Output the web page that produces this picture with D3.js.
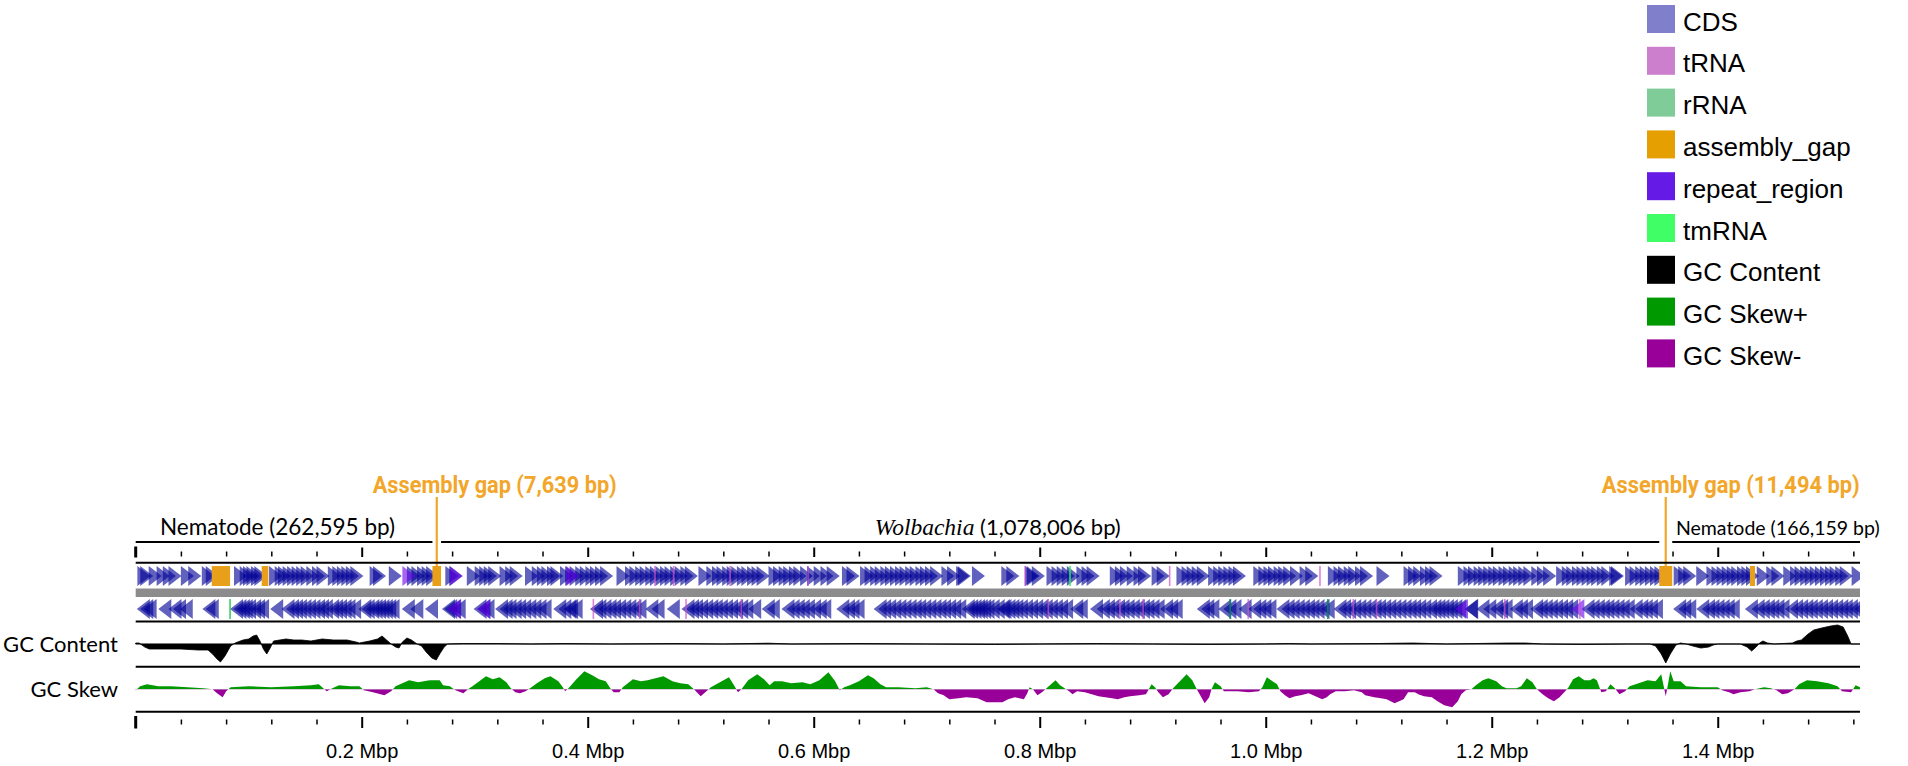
<!DOCTYPE html>
<html>
<head>
<meta charset="utf-8">
<script src="https://cdn.jsdelivr.net/npm/d3@7"></script>
<style>
body { margin: 0; background: #fff; }
svg { display: block; }
</style>
</head>
<body>
<svg id="map" width="1908" height="766"></svg>
<script>
// contigs in map order, with the assembly gaps between them
var seqNames = ["Nematode", "Wolbachia", "Nematode"];
var seqLengths = [262595, 1078006, 166159];
var gapLengths = [7639, 11494];
var seqLabelStartKb = [21.5, 654, 1363];

// other (unlabelled) assembly gaps, kb
var innerGaps = [[67.3, 83.5], [111.5, 117.4], [1428.5, 1433]];

// CDS positions (kb)
var cdsFwd = [1.5, 4, 11.5, 18.5, 24, 29, 40, 46.5, 58.5, 62,
  87, 92, 95, 98, 102, 105,
  118, 123, 126, 130, 134, 138, 142, 146, 151, 156, 160,
  170, 174, 178, 182, 186, 190,
  207, 210, 224, 240, 244, 249, 253, 257,
  274, 277.5, 293, 300, 304, 308, 312, 322, 327, 331, 344.5, 350.5, 355, 359, 364, 367,
  375.5, 380, 384, 389, 393, 398, 402, 406.5, 411,
  425.5, 433, 437, 442, 446, 451, 455, 460, 464, 468, 473, 477, 482, 486,
  498, 505, 510, 514, 519, 523, 527, 532, 536, 541, 545, 549.5,
  560, 564, 569, 573, 578, 582, 588, 594, 600, 606, 611.5,
  625, 629, 641, 645, 650, 654, 659, 663, 667.5, 672, 676, 681, 685, 690, 694, 698.5, 703,
  713, 718, 726, 727.5, 740,
  766, 770.5, 787, 788.5, 793, 806, 810.5, 815, 819.5, 824, 832.5, 837, 841.5,
  862, 866.5, 871, 877, 883, 887, 899, 903.5, 921, 925.5, 930, 934.5, 939,
  949, 953.5, 958, 962.5, 967, 971, 989, 993.5, 998, 1002, 1007, 1011, 1015.5, 1021.5, 1030, 1035,
  1055, 1060, 1064, 1069, 1073, 1079, 1083.5, 1098, 1122, 1126, 1130.5, 1136.5, 1141, 1145,
  1170, 1175, 1179, 1184, 1188, 1192.5, 1197, 1201, 1206, 1210, 1215, 1219, 1223.5, 1228, 1235, 1240, 1245.5,
  1257, 1262, 1266, 1271, 1275, 1279.5, 1284, 1288, 1293, 1297, 1304, 1305.5,
  1318, 1322, 1327, 1331, 1335.5, 1340, 1344,
  1361, 1365, 1369.5, 1381, 1390, 1394.5, 1399, 1403.5, 1408, 1412, 1417, 1421, 1425,
  1434.5, 1443, 1447.5, 1458, 1464, 1468, 1473, 1477, 1481.5, 1486, 1490.5, 1495, 1499, 1504, 1508, 1518.5];

var cdsRev = [1, 4, 7, 20, 29, 33, 39, 59, 62,
  83.5, 86.5, 89.5, 92, 95, 99.5, 103, 106.5, 119,
  129, 133, 136.5, 140, 144, 148, 152, 156, 159.5, 163, 168.5, 172, 175.5, 179.5, 183, 188,
  197, 200, 204, 207, 210, 213, 216, 219, 222, 235.5, 243, 256,
  271, 273, 276.5, 280.5, 299, 302.5, 306,
  318, 322, 325.5, 330, 334, 338.5, 343, 347.5, 352, 356.5, 369.5, 374, 378.5,
  380, 384, 402, 405, 409.5, 414, 418, 422.5, 427, 431.5, 436, 440.5, 451, 456.5, 470,
  483, 487, 490.5, 495, 499.5, 504, 508, 512.5, 517, 521.5, 526, 530.5, 535, 542,
  554, 558.5, 571.5, 576, 580.5, 585, 589.5, 595, 600, 604, 620, 625, 629, 633.5,
  653, 657, 661.5, 666, 670.5, 675, 679.5, 684, 688, 692.5, 697, 701.5, 706, 710, 714.5, 719, 723.5,
  731, 734, 737, 740, 742.5, 745.5, 748.5, 753, 757.5, 762,
  763.5, 767, 770.5, 774, 778, 782.5, 787, 791.5, 796, 800, 804.5, 809, 813.5, 818,
  827, 831, 844.5, 850.5, 855, 859, 864, 868, 872.5, 877, 881.5, 886, 890, 894.5, 899,
  906.5, 911, 915, 939, 943, 947.5, 958, 962.5, 967, 976, 984.5, 989, 993.5, 998,
  1009.5, 1014, 1018.5, 1023, 1027.5, 1032, 1036, 1040.5, 1045, 1049.5,
  1060, 1064, 1068.5, 1073, 1077.5, 1082, 1086.5, 1091, 1095, 1099.5, 1104, 1108.5, 1113, 1117.5, 1122, 1126, 1130.5, 1135,
  1140, 1144, 1147.5, 1151, 1155, 1158.5, 1162.5, 1166, 1176, 1176.5, 1186.5, 1192.5, 1198.5, 1203, 1207, 1216, 1220.5, 1225,
  1234, 1238, 1242.5, 1247, 1251.5, 1256, 1260.5, 1265, 1279.5, 1284, 1288.5, 1293, 1297, 1301.5, 1306, 1310.5, 1315,
  1322, 1327, 1331, 1335.5, 1340, 1360.5, 1365, 1369.5, 1381, 1386, 1390, 1394.5, 1399, 1403.5, 1408,
  1424, 1430, 1434.5, 1439, 1443, 1447.5, 1452, 1459.5, 1464, 1468.5, 1473, 1477, 1481.5, 1486, 1490.5, 1495, 1499.5, 1504, 1508, 1512.5, 1517, 1521];

var repeatFwd = [236, 278, 381];
var repeatRev = [276, 302, 1167.5, 1270.5];
var trnaFwd = [459.5, 476, 526, 595, 787, 915, 1048];
var trnaRev = [405, 446, 487, 536, 807.5, 871, 891.5, 984.5, 1077.5, 1098, 1211.5, 1278];
var rrnaRev = [968.5, 1055];
var tmrnaFwd = [826.8];
var tmrnaRev = [83.5];

// GC content, deviation from genome mean (kb, value)
var gcContent = [[0, 1], [3, 1], [8, -3], [12, -5], [25, -5], [40, -5], [55, -6], [64, -6], [68, -10], [72, -15], [75, -18],
  [79, -12], [84, -2], [88, 1], [95, 4], [100, 5], [104, 8], [107, 9], [110, 3], [113, -5], [116, -10], [119, -4],
  [122, 3], [133, 5], [140, 4], [147, 4], [155, 3], [165, 5], [175, 4], [187, 4], [195, 2], [198, 1], [207, 3],
  [214, 5], [218, 8], [222, 4], [226, 0], [230, -3], [233, -4], [236, 2], [240, 6], [244, 4], [249, 0], [253, -2],
  [257, -8], [262, -14], [266, -16], [269, -10], [273, -3], [276, 0], [290, 0.5], [320, 0.5], [350, 0], [380, 0.5],
  [420, 0], [480, 0.5], [520, 0], [560, 0.8], [580, 0], [640, 0.5], [700, 0], [760, -0.5], [800, 0], [850, 0.5],
  [900, 0], [950, -0.5], [1000, 0], [1020, 0.5], [1040, 0], [1100, 0.5], [1130, 1], [1160, 0], [1215, 1], [1230, 1],
  [1245, 0], [1280, -0.5], [1320, 0], [1340, 0], [1345, -2], [1350, -10], [1354, -19], [1358, -10], [1363, -1],
  [1367, 1], [1372, 0], [1378, -2], [1385, -4], [1392, -3], [1396, -1], [1400, 0], [1420, 0], [1426, -3], [1430, -7],
  [1434, -3], [1437, 1], [1440, 3], [1444, 1], [1450, 0], [1466, 1], [1470, 3], [1474, 4], [1480, 10], [1485, 14],
  [1492, 16], [1500, 18], [1506, 19], [1511, 17], [1515, 8], [1518, 0], [1525.9, 0]];

// GC skew (kb, value)
var gcSkew = [[0, -1], [4, 3], [10, 5], [20, 3], [31, 3], [46, 2], [60, 1], [68, 0], [72, -4], [77, -8], [80, -2], [84, 2],
  [100, 3], [120, 2], [140, 3], [155, 4], [162, 5], [166, 1], [169, -2], [174, 1], [180, 4], [190, 3], [198, 3],
  [202, -1], [210, -3], [220, -6], [226, -2], [230, 3], [236, 6], [242, 9], [250, 7], [260, 9], [269, 9], [272, 4],
  [278, 3], [283, -1], [290, -4], [294, 0], [298, 3], [310, 13], [316, 10], [322, 12], [328, 7], [332, 1], [336, -3],
  [340, -4], [345, -2], [349, 1], [355, 6], [362, 11], [367, 13], [374, 8], [378, 2], [380, -2], [383, 1], [390, 10],
  [397, 18], [404, 14], [410, 10], [416, 8], [420, 1], [423, -3], [428, -3], [431, 2], [440, 10], [447, 8],
  [453, 9], [460, 11], [467, 13], [475, 8], [482, 6], [489, 5], [494, 0], [500, -7], [505, -2], [509, 2], [517, 7],
  [525, 12], [530, 3], [533, -3], [536, 0], [542, 9], [550, 15], [556, 10], [561, 4], [565, 8], [572, 8], [580, 6],
  [590, 7], [597, 5], [605, 9], [613, 17], [619, 8], [623, -1], [627, 2], [632, 4], [640, 8], [648, 14], [653, 11],
  [659, 5], [664, 2], [675, 2], [690, 1], [700, 2], [706, 0], [710, -4], [715, -6], [720, -10], [728, -9], [735, -8],
  [745, -9], [753, -13], [760, -13], [767, -13], [772, -10], [778, -8], [782, -9], [786, -10], [789, -4], [791, 2],
  [794, 0], [798, -6], [802, -3], [807, 2], [814, 9], [818, 4], [822, 1], [826, -2], [829, -5], [833, -2], [840, -3],
  [846, -5], [852, -7], [858, -8], [864, -9], [869, -10], [875, -8], [880, -7], [888, -6], [894, -5], [897, 1],
  [899, 5], [902, 2], [905, -3], [909, -8], [914, -5], [918, 1], [924, 8], [930, 15], [935, 9], [939, 0], [942, -6],
  [946, -14], [950, -8], [952, 0], [955, 7], [960, 3], [963, -2], [975, -2], [985, -3], [994, -2], [997, 2],
  [1001, 12], [1006, 8], [1010, 5], [1013, -2], [1017, -6], [1021, -9], [1026, -7], [1031, -6], [1038, -4],
  [1044, -7], [1050, -10], [1054, -8], [1057, -5], [1062, -2], [1070, -2], [1078, -1], [1085, -3], [1088, -6],
  [1096, -8], [1102, -9], [1107, -10], [1114, -14], [1118, -12], [1122, -10], [1126, -3], [1132, -3], [1135, -5],
  [1140, -7], [1147, -8], [1152, -12], [1158, -16], [1165, -18], [1170, -12], [1173, -5], [1177, -1], [1182, 0],
  [1186, 4], [1192, 9], [1197, 11], [1204, 8], [1209, 3], [1213, 1], [1222, 1], [1226, 3], [1231, 11], [1236, 7],
  [1240, 0], [1245, -5], [1250, -9], [1255, -12], [1260, -8], [1265, -2], [1268, 2], [1272, 10], [1277, 13],
  [1282, 9], [1287, 9], [1290, 11], [1293, 9], [1297, -3], [1301, -2], [1305, 5], [1309, 1], [1313, -5], [1318, -2],
  [1322, 3], [1330, 6], [1338, 9], [1345, 8], [1350, 15], [1352, 4], [1354, -7], [1356, 5], [1358, 18], [1361, 8],
  [1367, 8], [1372, 3], [1385, 2], [1400, 2], [1404, -1], [1410, -3], [1414, -5], [1420, -3], [1428, -2], [1433, 0],
  [1441, 2], [1447, 1], [1452, -1], [1457, -5], [1462, -4], [1468, 0], [1472, 5], [1479, 9], [1488, 8], [1498, 6],
  [1506, 3], [1510, -2], [1518, -3], [1522, 4], [1525.9, 2]];

var tickValuesBp = [200000, 400000, 600000, 800000, 1000000, 1200000, 1400000];
var tickLabels = ["0.2 Mbp", "0.4 Mbp", "0.6 Mbp", "0.8 Mbp", "1.0 Mbp", "1.2 Mbp", "1.4 Mbp"];
var minorStepBp = 40000;

var legendNames = ["CDS", "tRNA", "rRNA", "assembly_gap", "repeat_region", "tmRNA", "GC Content", "GC Skew+", "GC Skew-"];
var legendColors = ["#7f7fcc", "#cc7fcc", "#7fcc99", "#e69f00", "#661ae6", "#40ff66", "#000000", "#009900", "#990099"];


function drawMap() {
    var svg = d3.select("#map");
    var left = 135.7, right = 1860;
    var fwdTop = 566, fwdBot = 586, revTop = 599, revBot = 619;
    var head = 13;
    var sans = "Lato, 'Liberation Sans', sans-serif";

    // lay the contigs and gaps end to end
    var contigs = [], gaps = [];
    var pos = 0;
    seqLengths.forEach(function(len, i) {
        contigs.push({name: seqNames[i], start: pos, end: pos + len, len: len, labelKb: seqLabelStartKb[i]});
        pos += len;
        if (i < gapLengths.length) {
            gaps.push({start: pos, end: pos + gapLengths[i], len: gapLengths[i]});
            pos += gapLengths[i];
        }
    });
    var total = pos;

    var scX = d3.scaleLinear().domain([0, total]).range([left, right]);
    var kx = function(kb) { return scX(kb * 1000); };

    svg.append("rect").attr("width", 1908).attr("height", 766).attr("fill", "#fff");

    svg.append("defs").append("clipPath").attr("id", "trackClip")
        .append("rect").attr("x", left).attr("y", 0).attr("width", right - left).attr("height", 766);

    // ---- legend
    var legend = svg.append("g").attr("transform", "translate(1647,5)");
    legend.selectAll("rect").data(legendNames).enter().append("rect")
        .attr("x", 0).attr("y", (d, i) => i * 41.8)
        .attr("width", 28).attr("height", 28)
        .attr("fill", (d, i) => legendColors[i]);
    legend.selectAll("text").data(legendNames).enter().append("text")
        .attr("x", 36).attr("y", (d, i) => i * 41.8 + 25.5)
        .attr("font-family", "'Liberation Sans', Arial, sans-serif")
        .attr("font-size", 26).attr("fill", "#000")
        .text(d => d);

    // ---- assembly gap callouts
    var fmt = d3.format(",");
    var gapLabelWidths = [244, 258];
    var call = svg.append("g");
    gaps.forEach(function(g, i) {
        var cx = scX((g.start + g.end) / 2);
        call.append("line").attr("x1", cx).attr("x2", cx).attr("y1", 497).attr("y2", fwdBot)
            .attr("stroke", "#f2a62a").attr("stroke-width", 2.2);
        call.append("text").attr("x", cx - 64).attr("y", 493)
            .attr("font-family", "Roboto, sans-serif").attr("font-weight", 700)
            .attr("font-size", 23).attr("fill", "#f2a62a")
            .attr("textLength", gapLabelWidths[i]).attr("lengthAdjust", "spacingAndGlyphs")
            .text("Assembly gap (" + fmt(g.len) + " bp)");
    });

    // ---- contig lines and names
    var names = svg.append("g");
    names.selectAll("line").data(contigs).enter().append("line")
        .attr("x1", d => scX(d.start)).attr("x2", d => scX(d.end))
        .attr("y1", 542).attr("y2", 542)
        .attr("stroke", "#000").attr("stroke-width", 2);
    var nameSizes = [22.5, 22, 19.5];
    contigs.forEach(function(c, i) {
        var t = names.append("text").attr("x", kx(c.labelKb)).attr("y", 535)
            .attr("font-family", sans).attr("font-size", nameSizes[i]).attr("fill", "#000");
        if (c.name == "Wolbachia") {
            t.append("tspan").attr("font-family", "'Liberation Serif', 'Times New Roman', serif")
                .attr("font-style", "italic").attr("font-size", 23.5).text(c.name);
            t.append("tspan").text(" (" + fmt(c.len) + " bp)");
        } else {
            t.text(c.name + " (" + fmt(c.len) + " bp)");
        }
    });

    // ---- rulers (top under names, bottom with labels)
    var minorTicks = d3.range(minorStepBp, total, minorStepBp).filter(d => d % 200000 != 0);

    function ruler(y0, majorLen, minorOff, minorLen, labels) {
        var major = d3.axisBottom(scX).tickValues(tickValuesBp).tickSize(majorLen).tickSizeOuter(0)
            .tickPadding(16).tickFormat((d, i) => labels ? tickLabels[i] : "");
        var gM = svg.append("g").attr("transform", "translate(0," + y0 + ")").call(major);
        gM.select(".domain").remove();
        gM.selectAll("line").attr("stroke-width", 2);
        gM.selectAll("text").attr("font-family", "'Liberation Sans', Arial, sans-serif")
            .attr("font-size", 20).attr("fill", "#000");

        var minor = d3.axisBottom(scX).tickValues(minorTicks).tickSize(minorLen).tickSizeOuter(0).tickFormat("");
        var gm = svg.append("g").attr("transform", "translate(0," + (y0 + minorOff) + ")").call(minor);
        gm.select(".domain").remove();
        gm.selectAll("line").attr("stroke-width", 1.5);

        svg.append("rect").attr("x", scX(0) - 1.5).attr("y", y0 - 1).attr("width", 3).attr("height", majorLen + 1.5)
            .attr("fill", "#000");
    }
    ruler(547.5, 9.5, 4, 5, false);
    ruler(717, 11, 2.5, 5, true);

    // ---- frame lines and backbone
    var frameY = [562.7, 621.5, 666.7, 711.7];
    svg.selectAll("line.frame").data(frameY).enter().append("line").attr("class", "frame")
        .attr("x1", left).attr("x2", right).attr("y1", d => d).attr("y2", d => d)
        .attr("stroke", "#000").attr("stroke-width", 2);
    svg.append("rect").attr("x", left).attr("y", 588.5).attr("width", right - left).attr("height", 8.5)
        .attr("fill", "#8c8c8c");

    // ---- features
    var feat = svg.append("g").attr("clip-path", "url(#trackClip)");
    function fwdTri(kb) {
        var x0 = kx(kb);
        return "M" + x0 + "," + fwdTop + "L" + (x0 + head) + "," + ((fwdTop + fwdBot) / 2) + "L" + x0 + "," + fwdBot + "Z";
    }
    function revTri(kb) {
        var x0 = kx(kb);
        return "M" + x0 + "," + ((revTop + revBot) / 2) + "L" + (x0 + head) + "," + revTop + "L" + (x0 + head) + "," + revBot + "Z";
    }
    function arrows(data, strand, color, op) {
        feat.append("g").selectAll("path").data(data).enter().append("path")
            .attr("d", strand > 0 ? fwdTri : revTri)
            .attr("fill", color).attr("fill-opacity", op);
    }
    arrows(cdsFwd, 1, "rgb(0,0,150)", 0.62);
    arrows(cdsRev, -1, "rgb(0,0,150)", 0.62);
    arrows(repeatFwd, 1, "rgb(102,0,230)", 0.6);
    arrows(repeatRev, -1, "rgb(102,0,230)", 0.6);

    function ticksOf(data, strand, color, op) {
        feat.append("g").selectAll("rect").data(data).enter().append("rect")
            .attr("x", d => kx(d) - 0.8).attr("width", 1.6)
            .attr("y", strand > 0 ? fwdTop : revTop).attr("height", fwdBot - fwdTop)
            .attr("fill", color).attr("fill-opacity", op);
    }
    ticksOf(trnaFwd, 1, "rgb(204,80,204)", 0.7);
    ticksOf(trnaRev, -1, "rgb(204,80,204)", 0.7);
    ticksOf(rrnaRev, -1, "rgb(0,140,90)", 0.85);
    ticksOf(tmrnaFwd, 1, "rgb(40,240,90)", 0.9);
    ticksOf(tmrnaRev, -1, "rgb(40,200,90)", 0.9);

    var allGaps = innerGaps.concat(gaps.map(g => [g.start / 1000, g.end / 1000]));
    feat.append("g").selectAll("rect").data(allGaps).enter().append("rect")
        .attr("x", d => kx(d[0])).attr("width", d => kx(d[1]) - kx(d[0]))
        .attr("y", fwdTop).attr("height", fwdBot - fwdTop)
        .attr("fill", "#e8a01a");

    // ---- GC content
    var gcBase = 644;
    var scGC = d3.scaleLinear().domain([-20, 20]).range([gcBase + 20, gcBase - 20]);
    var gcArea = d3.area().x(d => kx(d[0])).y0(gcBase).y1(d => scGC(d[1]));
    svg.append("line").attr("x1", left).attr("x2", right).attr("y1", gcBase).attr("y2", gcBase)
        .attr("stroke", "#777").attr("stroke-width", 0.8);
    svg.append("path").attr("d", gcArea(gcContent)).attr("fill", "#000")
        .attr("stroke", "#000").attr("stroke-width", 0.8);

    // ---- GC skew, split at the baseline
    var skBase = 689.3;
    var scSk = d3.scaleLinear().domain([-20, 20]).range([skBase + 20, skBase - 20]);
    var skArea = d3.area().x(d => kx(d[0])).y0(skBase).y1(d => scSk(d[1]));
    var defs = svg.select("defs");
    defs.append("clipPath").attr("id", "skUp").append("rect")
        .attr("x", 0).attr("y", 0).attr("width", 1908).attr("height", skBase);
    defs.append("clipPath").attr("id", "skDown").append("rect")
        .attr("x", 0).attr("y", skBase).attr("width", 1908).attr("height", 100);
    svg.append("path").attr("d", skArea(gcSkew)).attr("fill", "#009900").attr("clip-path", "url(#skUp)");
    svg.append("path").attr("d", skArea(gcSkew)).attr("fill", "#990099").attr("clip-path", "url(#skDown)");

    // ---- track names
    var trackNames = [["GC Content", gcBase + 7.5], ["GC Skew", skBase + 7.5]];
    svg.selectAll("text.trk").data(trackNames).enter().append("text").attr("class", "trk")
        .attr("x", 118).attr("y", d => d[1])
        .attr("text-anchor", "end").attr("font-family", sans).attr("font-size", 22)
        .attr("fill", "#000").text(d => d[0]);
}

drawMap();
</script>
</body>
</html>
